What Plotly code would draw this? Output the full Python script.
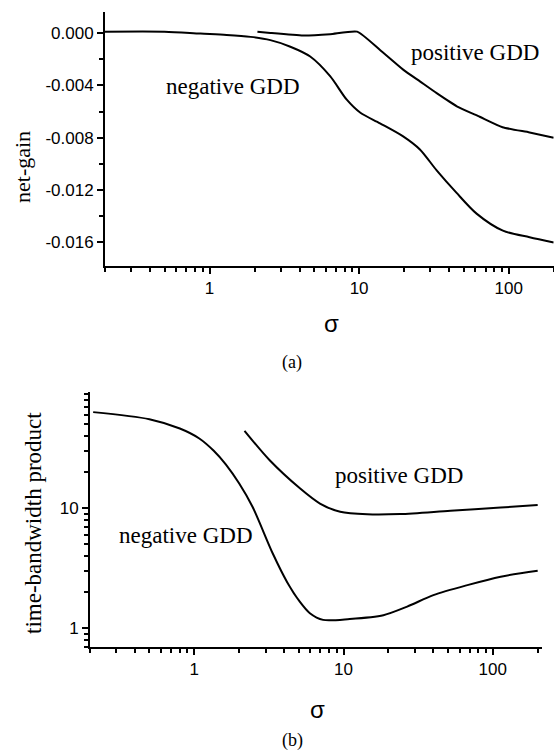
import plotly.graph_objects as go
import numpy as np

# ---- data (a): net-gain vs sigma ----
sig_a_neg = [0.2, 0.5, 0.87, 1.3, 1.88, 2.55, 3.47, 4.71, 6.4, 8.27, 10.2, 13.8, 19.7, 25.5, 33, 44.7, 61, 91.5, 138, 200]
gain_a_neg = [0.0001, 0.0001, -0.00005, -0.00015, -0.0003, -0.00055, -0.00105, -0.0018, -0.0033, -0.0051, -0.0061, -0.0069, -0.0079, -0.0089, -0.0105, -0.0122, -0.0138, -0.0151, -0.0156, -0.016]
sig_a_pos = [2.09, 2.55, 4.23, 6.4, 9.7, 13.8, 19.7, 25.5, 33, 45, 64, 91, 138, 200]
gain_a_pos = [0.0001, 0.0, -0.0002, -0.0001, 0.0001, -0.0013, -0.0028, -0.0037, -0.0046, -0.0056, -0.0064, -0.0072, -0.0076, -0.008]

# ---- data (b): time-bandwidth product vs sigma ----
sig_b_neg = [0.21, 0.5, 0.8, 1.08, 1.35, 1.63, 2.0, 2.46, 3.35, 4.2, 5.09, 5.95, 7.3, 11, 18.5, 26.7, 40, 67.6, 113, 200]
tbp_b_neg = [63, 55, 46, 38, 30, 23, 16, 10.2, 4.2, 2.4, 1.66, 1.33, 1.17, 1.19, 1.28, 1.51, 1.88, 2.28, 2.68, 3.0]
sig_b_pos = [2.17, 3.2, 5.1, 6.95, 9.5, 14.4, 24, 52, 113, 200]
tbp_b_pos = [44, 25, 14.6, 10.9, 9.3, 8.86, 8.9, 9.5, 10.1, 10.6]

ytick_a = [0.0, -0.004, -0.008, -0.012, -0.016]
ytick_a_text = [f"{v:.3f}" for v in ytick_a]
xtick_vals = [1, 10, 100]
xtick_text = ["1", "10", "100"]
ytick_b = [1, 10]
ytick_b_text = ["1", "10"]

W, H = 554, 750
def px(x): return x / W
def py(y): return 1 - y / H

line = dict(color="black", width=2)
fig = go.Figure()
fig.add_trace(go.Scatter(x=sig_a_neg, y=gain_a_neg, mode="lines", line=dict(**line, shape="spline", smoothing=0.8), xaxis="x", yaxis="y"))
fig.add_trace(go.Scatter(x=sig_a_pos, y=gain_a_pos, mode="lines", line=dict(**line, shape="spline", smoothing=0.5), xaxis="x", yaxis="y"))
fig.add_trace(go.Scatter(x=sig_b_neg, y=tbp_b_neg, mode="lines", line=dict(**line, shape="spline", smoothing=0.8), xaxis="x2", yaxis="y2"))
fig.add_trace(go.Scatter(x=sig_b_pos, y=tbp_b_pos, mode="lines", line=dict(**line, shape="spline", smoothing=0.8), xaxis="x2", yaxis="y2"))

tickfont = dict(family="Liberation Sans, Arial", size=17, color="black")
axcommon = dict(showline=True, linecolor="black", linewidth=2, ticks="outside", tickcolor="black",
                tickwidth=2, ticklen=6, showgrid=False, zeroline=False, tickfont=tickfont)
minor_log = dict(ticks="outside", ticklen=4, tickwidth=1.5, tickcolor="black", showgrid=False, dtick="D1")

fig.update_layout(
    width=W, height=H, margin=dict(l=0, r=0, t=0, b=0),
    paper_bgcolor="white", plot_bgcolor="white", showlegend=False,
    xaxis=dict(**axcommon, type="log", domain=[px(105), px(553.7)], anchor="y",
               range=[np.log10(0.2), np.log10(200)], tickvals=xtick_vals, ticktext=xtick_text,
               minor=minor_log),
    yaxis=dict(**axcommon, domain=[py(266), py(12)], anchor="x", range=[-0.0178, 0.0016],
               tickvals=ytick_a, ticktext=ytick_a_text,
               minor=dict(ticks="outside", ticklen=4, tickwidth=1.5, tickcolor="black", dtick=0.002, showgrid=False)),
    xaxis2=dict(**axcommon, type="log", domain=[px(90), px(542)], anchor="y2",
                range=[np.log10(0.2), 2.33], tickvals=xtick_vals, ticktext=xtick_text,
                minor=minor_log),
    yaxis2=dict(**axcommon, type="log", domain=[py(647), py(392)], anchor="x2",
                range=[-0.158, 1.967], tickvals=ytick_b, ticktext=ytick_b_text,
                minor=minor_log),
)

serif = "Liberation Serif, Times New Roman"
def ann(text, x, y, size, family=serif, angle=0):
    fig.add_annotation(text=text, x=px(x), y=py(y), xref="paper", yref="paper",
                       showarrow=False, xanchor="center", yanchor="middle", textangle=angle,
                       font=dict(family=family, size=size, color="black"))

ann("negative GDD", 233, 86, 23)
ann("positive GDD", 475, 52, 23)
ann("σ", 331, 324, 24, family="Liberation Sans, Arial")
ann("(a)", 292, 362, 18)
ann("net-gain", 22, 167, 22, angle=-90)
ann("negative GDD", 186, 535, 23)
ann("positive GDD", 399, 475, 23)
ann("time-bandwidth product", 33, 523, 23, angle=-90)
ann("σ", 317, 709, 24, family="Liberation Sans, Arial")
ann("(b)", 292, 740, 18)

fig.write_html("out.html")
